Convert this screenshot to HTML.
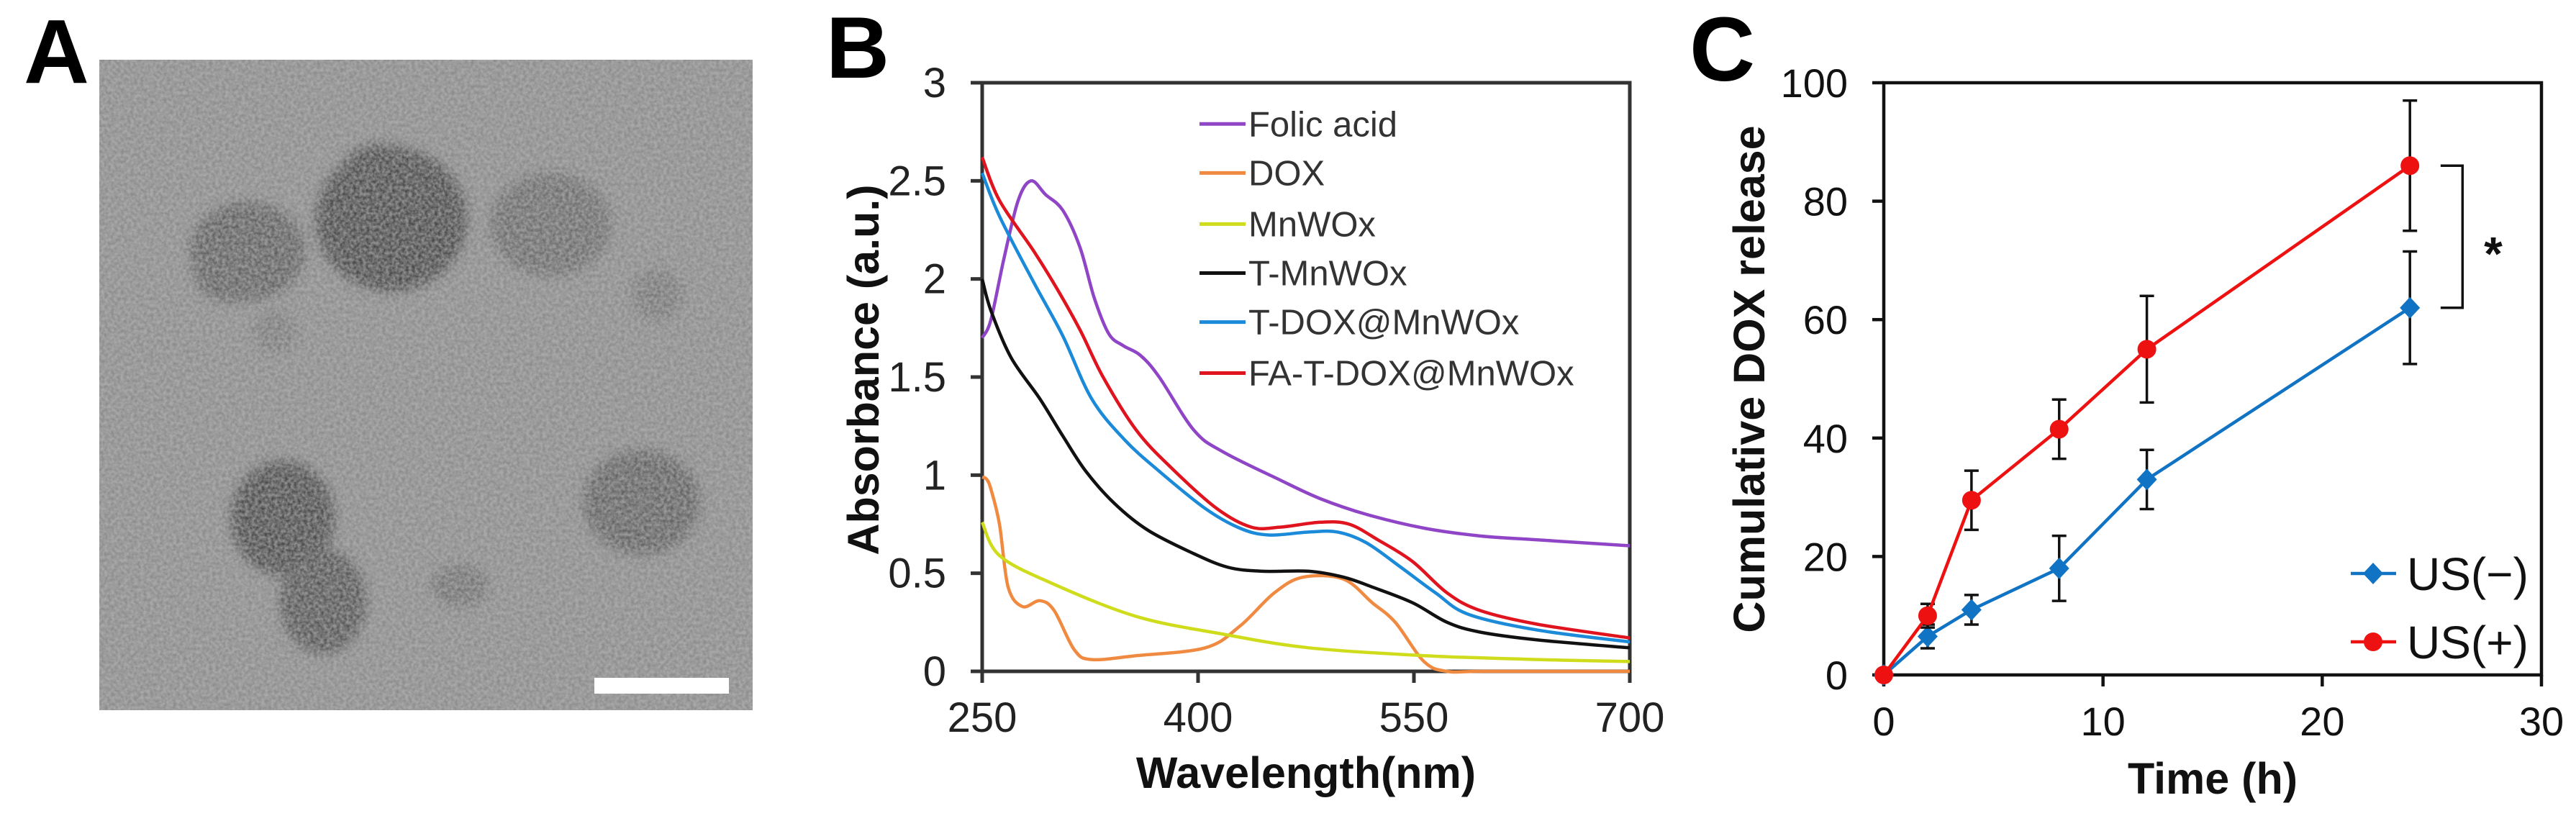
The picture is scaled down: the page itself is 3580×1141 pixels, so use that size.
<!DOCTYPE html>
<html><head><meta charset="utf-8"><style>
html,body{margin:0;padding:0;background:#fff}
svg{display:block;font-family:"Liberation Sans",Arial,sans-serif}
</style></head><body>
<svg id="fig" width="3580" height="1141" viewBox="0 0 3580 1141" xmlns="http://www.w3.org/2000/svg">
<defs>
<filter id="grain" x="0" y="0" width="100%" height="100%">
<feTurbulence type="fractalNoise" baseFrequency="0.22" numOctaves="2" seed="3" result="n"/>
<feColorMatrix type="matrix" values="0 0 0 0 0.5  0 0 0 0 0.5  0 0 0 0 0.5  0 0 0 1.8 -0.35" in="n" result="m"/>
<feComposite in="m" in2="SourceGraphic" operator="in"/>
</filter>
<filter id="blur"><feGaussianBlur stdDeviation="8"/></filter>
<clipPath id="clipA"><rect x="138" y="83" width="908" height="904"/></clipPath>
</defs>

<!-- Panel A -->
<text x="33" y="115" font-size="126" font-weight="bold">A</text>
<g id="panelA" clip-path="url(#clipA)">
<rect x="138" y="83" width="908" height="904" fill="#8c8c8c"/>
<g filter="url(#blur)">
<ellipse cx="344" cy="349" rx="80" ry="69" fill="#606060"/>
<ellipse cx="320" cy="380" rx="50" ry="40" fill="#626262"/>
<ellipse cx="544" cy="305" rx="105" ry="100" fill="#494949"/>
<ellipse cx="530" cy="250" rx="60" ry="50" fill="#4c4c4c"/>
<ellipse cx="765" cy="312" rx="84" ry="72" fill="#6c6c6c"/>
<ellipse cx="913" cy="410" rx="35" ry="36" fill="#787878"/>
<ellipse cx="382" cy="461" rx="30" ry="30" fill="#7c7c7c"/>
<ellipse cx="393" cy="720" rx="72" ry="80" fill="#4c4c4c"/>
<ellipse cx="449" cy="836" rx="60" ry="73" fill="#555555"/>
<ellipse cx="892" cy="698" rx="81" ry="73" fill="#626262"/>
<ellipse cx="639" cy="814" rx="40" ry="30" fill="#727272"/>
</g>
<rect x="138" y="83" width="908" height="904" fill="#fff" filter="url(#grain)" opacity="0.6"/>
<rect x="826" y="942" width="187" height="22" fill="#fff"/>
</g>

<!-- Panel B -->
<text x="1148" y="108" font-size="122" font-weight="bold">B</text>
<g id="panelB"></g>

<!-- Panel C -->
<text x="2348" y="112" font-size="126" font-weight="bold">C</text>
<g id="panelC"></g>
</svg>

<script>
// ---------- Panel B data ----------
const bSeriesNames = ["Folic acid","DOX","MnWOx","T-MnWOx","T-DOX@MnWOx","FA-T-DOX@MnWOx"];
const bColors = ["#8f45c6","#f08a40","#cfdc1c","#111111","#1b8ad8","#e0141e"];
const bYTicks = [0,0.5,1,1.5,2,2.5,3];
const bYTickLabels = ["0","0.5","1","1.5","2","2.5","3"];
const bXTicks = [250,400,550,700];
const folicWl = [250,256,265,275,284,294,306,318,328,338,348,360,373,397,417,457,485,517,557,596,636,700];
const folicAbs = [1.70,1.79,2.10,2.40,2.50,2.43,2.35,2.16,1.90,1.72,1.66,1.61,1.50,1.23,1.12,0.975,0.88,0.80,0.73,0.69,0.67,0.64];
const doxWl = [250,253,256,262,268,278,290,300,314,326,357,405,429,453,473,501,521,537,557,573,600,700];
const doxAbs = [0.99,0.98,0.93,0.75,0.43,0.33,0.36,0.31,0.11,0.06,0.08,0.12,0.23,0.40,0.48,0.47,0.35,0.25,0.05,0.0,0.0,0.0];
const mnWl = [250,262,298,357,417,477,557,636,700];
const mnAbs = [0.76,0.59,0.45,0.28,0.19,0.12,0.08,0.06,0.05];
const tmnWl = [250,256,270,290,306,322,342,365,397,421,445,477,501,521,549,573,596,636,700];
const tmnAbs = [2.00,1.84,1.60,1.39,1.20,1.02,0.855,0.72,0.60,0.53,0.51,0.51,0.48,0.43,0.35,0.25,0.20,0.16,0.12];
const tdoxWl = [250,262,286,306,326,349,373,405,429,449,477,497,517,541,565,588,636,700];
const tdoxAbs = [2.54,2.32,1.98,1.71,1.39,1.18,1.02,0.83,0.73,0.695,0.71,0.71,0.655,0.53,0.40,0.29,0.21,0.15];
const fatWl = [250,262,286,302,318,334,357,381,413,437,457,485,505,525,549,573,596,636,700];
const fatAbs = [2.62,2.40,2.14,1.95,1.74,1.50,1.23,1.04,0.83,0.735,0.735,0.76,0.75,0.67,0.56,0.40,0.31,0.24,0.17];
const bWl = [folicWl,doxWl,mnWl,tmnWl,tdoxWl,fatWl];
const bAbs = [folicAbs,doxAbs,mnAbs,tmnAbs,tdoxAbs,fatAbs];

// ---------- Panel C data ----------
const cTimes = [0,2,4,8,12,24];
const usMinus = [0,6.5,11,18,33,62];
const usMinusErr = [0,2,2.5,5.5,5,9.5];
const usPlus = [0,10,29.5,41.5,55,86];
const usPlusErr = [0,2,5,5,9,11];
const cYTicks = [0,20,40,60,80,100];
const cXTicks = [0,10,20,30];

const NS = "http://www.w3.org/2000/svg";
function mk(tag, attrs, parent){ const e=document.createElementNS(NS,tag); for(const k in attrs) e.setAttribute(k,attrs[k]); parent.appendChild(e); return e; }
function smoothPath(pts){
  let d = "M"+pts[0][0].toFixed(1)+","+pts[0][1].toFixed(1);
  for(let i=0;i<pts.length-1;i++){
    const p0=pts[Math.max(0,i-1)],p1=pts[i],p2=pts[i+1],p3=pts[Math.min(pts.length-1,i+2)];
    const c1=[p1[0]+(p2[0]-p0[0])/6,p1[1]+(p2[1]-p0[1])/6];
    const c2=[p2[0]-(p3[0]-p1[0])/6,p2[1]-(p3[1]-p1[1])/6];
    d+=" C"+c1[0].toFixed(1)+","+c1[1].toFixed(1)+" "+c2[0].toFixed(1)+","+c2[1].toFixed(1)+" "+p2[0].toFixed(1)+","+p2[1].toFixed(1);
  }
  return d;
}

// ---------- Build Panel B ----------
(function(){
  const g = document.getElementById("panelB");
  const L=1365,R=2265,T=115,B=933;
  const xB = v => L + (v-250)/(700-250)*(R-L);
  const yB = v => B - v/3*(B-T);
  const frame = mk("path",{d:`M${L},${T} H${R} V${B} H${L} Z`,fill:"none",stroke:"#333",
    "stroke-width":5},g);
  
  
  bYTicks.forEach((v,i)=>{
    const t=mk("line",{x1:L-16,x2:L,y1:yB(v),y2:yB(v),stroke:"#333","stroke-width":5},g);
    
    
    const tx=mk("text",{x:L-50,y:yB(v)+20,"font-size":58,"text-anchor":"end",fill:"#222"},g);
    tx.textContent=bYTickLabels[i];
    
    
  });
  bXTicks.forEach(v=>{
    const t=mk("line",{x1:xB(v),x2:xB(v),y1:B,y2:B+16,stroke:"#333","stroke-width":5},g);
    
    
    const tx=mk("text",{x:xB(v),y:1017,"font-size":58,"text-anchor":"middle",fill:"#222"},g);
    tx.textContent=String(v);
    
    
  });
  bSeriesNames.forEach((name,i)=>{
    const pts = bWl[i].map((w,j)=>[xB(w),yB(bAbs[i][j])]);
    const p=mk("path",{d:smoothPath(pts),fill:"none",stroke:bColors[i],"stroke-width":4.5,"stroke-linejoin":"round"},g);
    
    
  });
  // legend
  const legY=[2.79,2.54,2.28,2.03,1.78,1.52];
  bSeriesNames.forEach((name,i)=>{
    const y=yB(legY[i]);
    const ln=mk("line",{x1:xB(401),x2:xB(433),y1:y,y2:y,stroke:bColors[i],"stroke-width":5},g);
    
    
    const tx=mk("text",{x:xB(435),y:y+17,"font-size":49,fill:"#333"},g);
    tx.textContent=name;
    
    
  });
  const yt=mk("text",{x:0,y:0,"font-size":61,"font-weight":"bold","text-anchor":"middle",transform:"translate(1221,514) rotate(-90)",fill:"#111"},g);
  yt.textContent="Absorbance (a.u.)";
  
  
  const xt=mk("text",{x:1815,y:1095,"font-size":61,"font-weight":"bold","text-anchor":"middle",fill:"#111"},g);
  xt.textContent="Wavelength(nm)";
  
  
})();

// ---------- Build Panel C ----------
(function(){
  const g = document.getElementById("panelC");
  const L=2618,R=3532,T=115,B=938;
  const xC = v => L + v/30*(R-L);
  const yC = v => B - v/100*(B-T);
  const frame=mk("path",{d:`M${L},${T} H${R} V${B} H${L} Z`,fill:"none",stroke:"#111","stroke-width":4.5},g);
  
  
  cYTicks.forEach(v=>{
    const t=mk("line",{x1:L-16,x2:L,y1:yC(v),y2:yC(v),stroke:"#111","stroke-width":4.5},g);
    
    
    const tx=mk("text",{x:L-50,y:yC(v)+20,"font-size":56,"text-anchor":"end",fill:"#111"},g);
    tx.textContent=String(v);
    
    
  });
  cXTicks.forEach(v=>{
    const t=mk("line",{x1:xC(v),x2:xC(v),y1:B,y2:B+16,stroke:"#111","stroke-width":4.5},g);
    
    
    const tx=mk("text",{x:xC(v),y:1022,"font-size":56,"text-anchor":"middle",fill:"#111"},g);
    tx.textContent=String(v);
    
    
  });
  function series(vals,errs,color,shape,name){
    const sg=mk("g",{},g);
    
    
    cTimes.forEach((t,i)=>{
      if(errs[i]>0){
        const x=xC(t),y1=yC(vals[i]+errs[i]),y2=yC(vals[i]-errs[i]);
        const e=mk("path",{d:`M${x},${y1} V${y2} M${x-10},${y1} H${x+10} M${x-10},${y2} H${x+10}`,stroke:"#111","stroke-width":3.5,fill:"none"},sg);
        
        
      }
    });
    const pl=mk("polyline",{points:cTimes.map((t,i)=>xC(t)+","+yC(vals[i])).join(" "),fill:"none",stroke:color,"stroke-width":4.5},sg);
    
    
    cTimes.forEach((t,i)=>{
      const x=xC(t),y=yC(vals[i]);
      let m;
      if(shape==="circle") m=mk("circle",{cx:x,cy:y,r:13,fill:color},sg);
      else m=mk("path",{d:`M${x},${y-15} L${x+14},${y} L${x},${y+15} L${x-14},${y} Z`,fill:color},sg);
      
      
    });
  }
  series(usMinus,usMinusErr,"#1173c3","diamond","us-minus");
  series(usPlus,usPlusErr,"#ee1111","circle","us-plus");
  // significance bracket
  const bx1=xC(25.4),bx2=xC(26.4);
  const br=mk("path",{d:`M${bx1},${yC(86)} H${bx2} V${yC(62)} H${bx1}`,fill:"none",stroke:"#111","stroke-width":3.5},g);
  
  
  const st=mk("text",{x:xC(27.8),y:yC(72)+30,"font-size":66,"font-weight":"bold","text-anchor":"middle",fill:"#111"},g);
  st.textContent="*";
  
  
  // legend
  const lg=mk("g",{},g);
  
  
  const l1=mk("line",{x1:3267,x2:3330,y1:797,y2:797,stroke:"#1173c3","stroke-width":4.5},lg);
  
  
  const d1=mk("path",{d:"M3298,782 L3312,797 L3298,812 L3284,797 Z",fill:"#1173c3"},lg);
  
  
  const t1=mk("text",{x:3345,y:820,"font-size":64,fill:"#111"},lg);
  t1.textContent="US(\u2212)";
  
  
  const l2=mk("line",{x1:3267,x2:3330,y1:892,y2:892,stroke:"#ee1111","stroke-width":4.5},lg);
  
  
  const c2=mk("circle",{cx:3298,cy:892,r:13,fill:"#ee1111"},lg);
  
  
  const t2=mk("text",{x:3345,y:915,"font-size":64,fill:"#111"},lg);
  t2.textContent="US(+)";
  
  
  const yt=mk("text",{x:0,y:0,"font-size":61,"font-weight":"bold","text-anchor":"middle",transform:"translate(2452,527) rotate(-90)",fill:"#111"},g);
  yt.textContent="Cumulative DOX release";
  
  
  const xt=mk("text",{x:3075,y:1103,"font-size":61,"font-weight":"bold","text-anchor":"middle",fill:"#111"},g);
  xt.textContent="Time (h)";
  
  
})();
</script>
</body></html>
